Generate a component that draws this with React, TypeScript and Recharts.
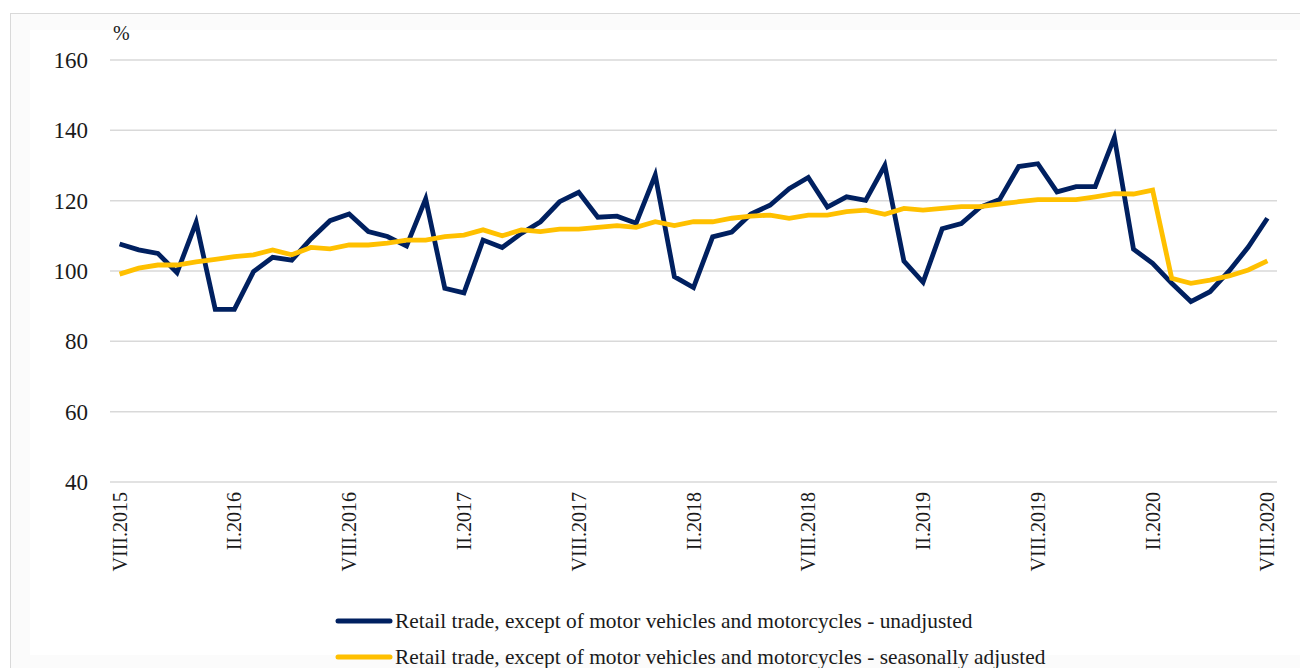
import { LineChart, Line, XAxis, YAxis, CartesianGrid, Legend } from "recharts";

const months = [
  "VIII.2015", "IX.2015", "X.2015", "XI.2015", "XII.2015",
  "I.2016", "II.2016", "III.2016", "IV.2016", "V.2016", "VI.2016", "VII.2016",
  "VIII.2016", "IX.2016", "X.2016", "XI.2016", "XII.2016",
  "I.2017", "II.2017", "III.2017", "IV.2017", "V.2017", "VI.2017", "VII.2017",
  "VIII.2017", "IX.2017", "X.2017", "XI.2017", "XII.2017",
  "I.2018", "II.2018", "III.2018", "IV.2018", "V.2018", "VI.2018", "VII.2018",
  "VIII.2018", "IX.2018", "X.2018", "XI.2018", "XII.2018",
  "I.2019", "II.2019", "III.2019", "IV.2019", "V.2019", "VI.2019", "VII.2019",
  "VIII.2019", "IX.2019", "X.2019", "XI.2019", "XII.2019",
  "I.2020", "II.2020", "III.2020", "IV.2020", "V.2020", "VI.2020", "VII.2020",
  "VIII.2020",
];

const unadjusted = [
  107.7, 106, 105, 99.5, 113.8, 89.1, 89.1, 99.8, 103.9, 103.1,
  109.1, 114.3, 116.2, 111.2, 109.8, 107.1, 120.5, 95.1, 93.8, 108.8,
  106.7, 110.7, 114, 119.7, 122.4, 115.3, 115.6, 113.6, 127.3, 98.4,
  95.3, 109.7, 111.1, 116.2, 118.7, 123.4, 126.6, 118.2, 121.1, 120.1,
  130, 102.8, 96.8, 112, 113.5, 118.2, 120.3, 129.7, 130.5, 122.5,
  124, 124, 138, 106.2, 102.2, 96.5, 91.3, 94.1, 100, 106.8, 115,
];

const seasonallyAdjusted = [
  99.1, 100.8, 101.7, 101.7, 102.6, 103.3, 104.1, 104.6, 106, 104.6,
  106.7, 106.3, 107.4, 107.4, 107.9, 108.8, 108.8, 109.8, 110.2, 111.7,
  110, 111.7, 111.2, 111.9, 111.9, 112.4, 112.9, 112.4, 114, 112.9,
  114, 114, 115, 115.6, 115.9, 115, 115.9, 115.9, 116.9, 117.3,
  116.1, 117.8, 117.3, 117.8, 118.3, 118.3, 119, 119.7, 120.3, 120.3,
  120.3, 121.1, 122, 121.9, 123, 97.9, 96.5, 97.4, 98.6, 100.3, 102.9,
];

const yTicks = [40, 60, 80, 100, 120, 140, 160];
const seriesOrder = ["unadj", "sa"];

const data = months.map((m, i) => ({
  month: m,
  unadj: unadjusted[i],
  sa: seasonallyAdjusted[i],
}));

const FONT = "'Liberation Serif', 'Times New Roman', serif";

function MonthTick({ x, y, payload }: any) {
  return (
    <text
      x={x}
      y={y}
      transform={`rotate(-90, ${x}, ${y})`}
      textAnchor="end"
      dy="0.35em"
      fontFamily={FONT}
      fontSize={20}
      fill="#1a1a1a"
    >
      {payload.value}
    </text>
  );
}

function LegendBox({ payload }: any) {
  const items = [...(payload || [])].sort(
    (a: any, b: any) => seriesOrder.indexOf(a.dataKey) - seriesOrder.indexOf(b.dataKey)
  );
  return (
    <div style={{ fontFamily: FONT, fontSize: 21.4, color: "#1a1a1a" }}>
      {items.map((p: any) => (
        <div
          key={p.dataKey}
          style={{ display: "flex", alignItems: "center", height: 36, whiteSpace: "nowrap" }}
        >
          <svg width={58} height={10} style={{ marginRight: 2 }}>
            <line x1={3} y1={5} x2={55} y2={5} stroke={p.color} strokeWidth={5} strokeLinecap="round" />
          </svg>
          <span>{p.value}</span>
        </div>
      ))}
    </div>
  );
}

export default function App() {
  return (
    <div style={{ position: "absolute", left: 0, top: 0, width: 1300, height: 668, background: "#fff", overflow: "hidden" }}>
      <div
        style={{
          position: "absolute",
          left: 10,
          top: 13,
          width: 1300,
          height: 700,
          border: "1px solid #d9d9d9",
          background: "#fbfbfb",
        }}
      />
      <div style={{ position: "absolute", left: 30, top: 30, width: 1270, height: 625, background: "#fff" }} />
      <div
        style={{
          position: "absolute",
          left: 113,
          top: 22,
          fontFamily: FONT,
          fontSize: 20,
          color: "#1a1a1a",
        }}
      >
        %
      </div>
      <div style={{ position: "absolute", left: 0, top: 0 }}>
        <LineChart
          width={1300}
          height={668}
          data={data}
          margin={{ top: 60, right: 23, left: 0, bottom: 86 }}
        >
          <CartesianGrid vertical={false} stroke="#d9d9d9" strokeWidth={1.5} />
          <XAxis
            dataKey="month"
            interval={5}
            axisLine={false}
            tickLine={false}
            tickMargin={4}
            height={100}
            padding={{ left: 9.6, right: 9.6 }}
            tick={<MonthTick />}
          />
          <YAxis
            domain={[40, 160]}
            ticks={yTicks}
            width={110}
            axisLine={false}
            tickLine={false}
            tickMargin={16}
            tick={{ fontFamily: FONT, fontSize: 23, fill: "#1a1a1a" }}
          />
          <Legend
            layout="horizontal"
            verticalAlign="middle"
            align="center"
            wrapperStyle={{ top: 603, left: 335, width: "auto" }}
            content={<LegendBox />}
          />
          <Line
            dataKey="unadj"
            name="Retail trade, except of motor vehicles and motorcycles - unadjusted"
            stroke="#002060"
            strokeWidth={4.8}
            dot={false}
            isAnimationActive={false}
          />
          <Line
            dataKey="sa"
            name="Retail trade, except of motor vehicles and motorcycles - seasonally adjusted"
            stroke="#FFC000"
            strokeWidth={4.8}
            dot={false}
            isAnimationActive={false}
          />
        </LineChart>
      </div>
    </div>
  );
}
